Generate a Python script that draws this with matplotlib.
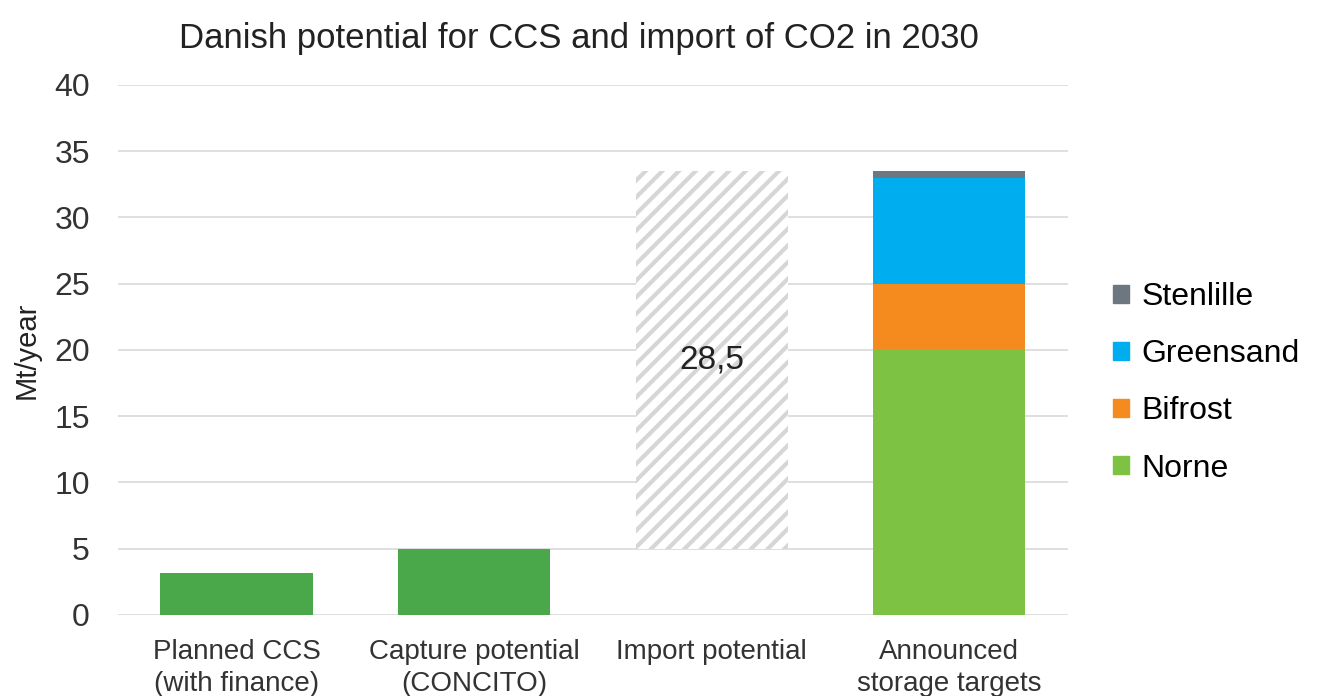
import matplotlib.pyplot as plt
from matplotlib.patches import Patch

plt.rcParams['font.family'] = ['Liberation Sans', 'DejaVu Sans']
plt.rcParams['hatch.linewidth'] = 3

categories = ['Planned CCS\n(with finance)', 'Capture potential\n(CONCITO)',
              'Import potential', 'Announced\nstorage targets']
single_values = [3.2, 5.0]          # first two bars
import_base = 5.0
import_value = 28.5
storage_names = ['Norne', 'Bifrost', 'Greensand', 'Stenlille']
storage_values = [20.0, 5.0, 8.0, 0.5]
storage_colors = ['#7dc242', '#f58b1f', '#00aeef', '#6d7780']

fig = plt.figure(figsize=(13.22, 6.96), dpi=100)
ax = fig.add_axes([0.089, 0.1164, 0.719, 0.7616])

x = list(range(len(categories)))
w = 0.64

ax.bar(x[:2], single_values, width=w, color='#4aa74a', zorder=3)

ax.bar(x[2], import_value, bottom=import_base, width=w, facecolor='white',
       edgecolor='#d6d6d6', hatch='//', linewidth=0, zorder=3)
ax.text(x[2], import_base + import_value / 2, f'{import_value:.1f}'.replace('.', ','),
        ha='center', va='center', fontsize=24, color='#222222', zorder=4)

bottom = 0
for name, val, col in zip(storage_names, storage_values, storage_colors):
    ax.bar(x[3], val, bottom=bottom, width=w, color=col, zorder=3, label=name)
    bottom += val

ax.set_ylim(0, 40)
ax.set_yticks(range(0, 41, 5))
ax.set_xlim(-0.5, 3.5)
ax.set_xticks(x)
ax.set_xticklabels(categories, fontsize=20, color='#333333', linespacing=1.3)
ax.tick_params(axis='x', length=0, pad=17)
ax.tick_params(axis='y', length=0, pad=20, labelsize=23, colors='#333333')
ax.yaxis.grid(True, color='#d9d9d9', linewidth=1.2, zorder=0)
for s in ax.spines.values():
    s.set_visible(False)
ax.set_ylabel('Mt/year', fontsize=21, color='#222222', labelpad=10)

fig.suptitle('Danish potential for CCS and import of CO2 in 2030', x=0.438, y=0.968,
             fontsize=25, color='#222222')

handles = [Patch(color=c, label=n) for n, c in zip(storage_names, storage_colors)][::-1]
fig.legend(handles=handles, loc='center left', bbox_to_anchor=(0.82, 0.45),
           frameon=False, fontsize=23, handlelength=0.5, handleheight=0.5,
           handletextpad=0.4, labelspacing=0.85)

fig.savefig('out.png', dpi=100)
